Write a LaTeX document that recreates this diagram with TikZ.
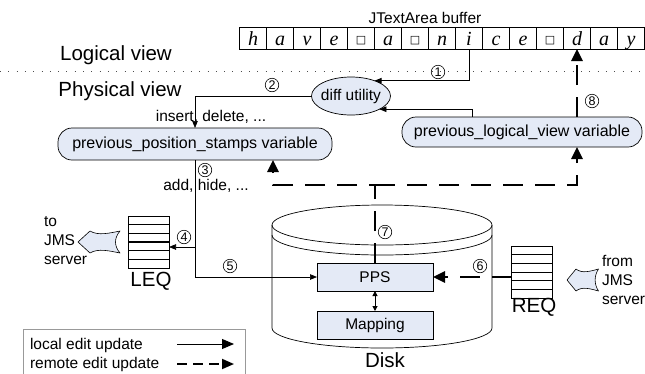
\documentclass[tikz,border=0pt]{standalone}
\usepackage{fontspec}
\setmainfont{Liberation Sans}
\newfontfamily\symfont{DejaVu Sans}
\newfontfamily\cellfont{Liberation Serif}
\usetikzlibrary{arrows.meta,shapes.geometric,calc}

\definecolor{boxfill}{RGB}{228,234,246}
\newcommand\fsz[1]{\fontsize{#1}{#1}\selectfont}
\newcommand\blank{{\symfont\fsz{11}\raisebox{1.5pt}{□}}}

\tikzset{
  fatarrow/.pic={
    \draw[fat] (0,0) -- (12,-11) .. controls (20,-6) and (32,-9) .. (42,-11)
      .. controls (36,-4) and (36,4) .. (42,11)
      .. controls (32,9) and (20,6) .. (12,11) -- cycle;
  }
}

\begin{document}
\begin{tikzpicture}[x=1pt,y=-1pt,
  every node/.style={inner sep=0pt, outer sep=0pt},
  lbl/.style={font=\fsz{15.5}},
  stack/.style={font=\fontsize{15.5}{19}\selectfont, align=left, anchor=west},
  big/.style={font=\fsz{20.5}},
  num/.style={circle, draw, line width=0.6pt, minimum size=13.5pt, font=\fsz{12.5}},
  cell/.style={draw, line width=0.6pt, minimum width=27pt, minimum height=22pt,
    text height=18pt, text depth=4pt, font=\cellfont\itshape\fsz{20}},
  varbox/.style={draw, line width=0.7pt, fill=boxfill, rounded corners=14pt, font=\fsz{16}},
  diskbox/.style={draw, line width=0.6pt, fill=boxfill, minimum width=116pt,
    minimum height=28pt, font=\fsz{15.5}},
  queue/.style={draw, line width=0.6pt, minimum width=41pt, minimum height=52pt},
  fat/.style={draw, line width=0.6pt, fill=boxfill, line join=round},
  local/.style={line width=0.7pt, -{Triangle[length=7pt,width=5.5pt]}},
  remote/.style={line width=2.6pt, dash pattern=on 20pt off 12pt,
    -{Triangle[length=12pt,width=11pt]}},
]
\useasboundingbox (0,0) rectangle (645,373);

% ---- logical view: the text buffer ----
\node[lbl] at (425,18) {JTextArea buffer};
\foreach \ch [count=\i from 0] in {h,a,v,e,\blank,a,\blank,n,i,c,e,\blank,d,a,y}
  \node[cell] (c\i) at ({253+27*\i},38) {\ch};

\node[big] at (116,55) {Logical view};
\draw[line width=1pt, dash pattern=on 0.9pt off 7.4pt, gray!60!black] (0,71) -- (645,71);
\node[big] at (120,91) {Physical view};

% ---- disk ----
\draw[line width=0.7pt] (272,225) -- (272,328)
  arc[start angle=180, end angle=0, x radius=110, y radius=20] -- (492,225);
\draw[line width=0.7pt] (382,225) ellipse[x radius=110, y radius=20];
\draw[line width=0.7pt] (272,235) arc[start angle=180, end angle=0, x radius=110, y radius=20];
\node[big] at (385,360) {Disk};

\node[diskbox] (pps) at (375,277) {PPS};
\node[diskbox] (map) at (375,325) {Mapping};
\draw[line width=1pt, {Triangle[length=5pt,width=5pt]}-{Triangle[length=5pt,width=5pt]}]
  (pps.south) -- (map.north);

% ---- variables and diff utility ----
\node[draw, ellipse, fill=boxfill, line width=0.7pt, minimum width=79pt, minimum height=38pt,
  label={[font=\fsz{15.5}]center:diff utility}] (diff) at (351,96) {};
\node[varbox, minimum width=274pt, minimum height=32pt] (ppsv) at (195,144)
  {previous\_position\_stamps variable};
\node[varbox, minimum width=240pt, minimum height=30pt] (plv) at (522,132)
  {previous\_logical\_view variable};

% ---- queues ----
\node[queue] (leq) at (148.5,242) {};
\foreach \k/\w in {1/1.3,2/0.6,3/1.3,4/0.6,5/1.3}
  \draw[line width=\w pt] ($(leq.north west)+(0,\k*52/6)$) -- ++(41,0);
\node[big] at (151,281) {LEQ};

\node[queue] (req) at (532,272) {};
\foreach \k/\w in {1/0.6,2/1.3,3/0.6,4/1.3,5/0.6}
  \draw[line width=\w pt] ($(req.north west)+(0,\k*52/6)$) -- ++(41,0);
\node[big] at (534,307) {REQ};

\pic at (78,242) {fatarrow};
\node[stack] at (44,241) {to\\JMS\\server};
\pic[xscale=0.75] at (567,280) {fatarrow};
\node[stack] at (602,280) {from\\JMS\\server};

% ---- local edit path ----
\draw[local] (c8.south) |- (diff.33);
\draw[local] ([xshift=-50pt]plv.north) |- (diff.-25);
\draw[local] (diff.west) -| (ppsv.north);
\draw[local] (ppsv.south) |- (pps.west);
\coordinate (tap) at (195,247);
\draw[local] (tap) -- (tap -| leq.east);

\node[lbl] at (211,117) {insert, delete, ...};
\node[lbl] at (206,186) {add, hide, ...};

% ---- remote edit path ----
\coordinate (split) at (375,185);
\draw[remote] (pps.east -| req.west) -- (pps.east);
\draw[remote] (pps.north) -- (split) -| ([xshift=78pt]ppsv.south);
\draw[remote] (split) -| (plv.south -| c12.south);
\draw[remote] (plv.north -| c12.south) -- (c12.south);

% ---- step numbers ----
\node[num] at (438,72) {1};
\node[num] at (272,85) {2};
\node[num] at (205,170) {3};
\node[num] at (184,237) {4};
\node[num] at (230,266) {5};
\node[num] at (480,266) {6};
\node[num] at (385,232) {7};
\node[num] at (592,101) {8};

% ---- legend ----
\node[draw=gray!80, line width=0.7pt, minimum width=222pt, minimum height=50pt,
  anchor=north west] (legend) at (23,329) {};
\node[lbl, anchor=west] at (30,345) {local edit update};
\node[lbl, anchor=west] at (30,364) {remote edit update};
\coordinate (la1) at (177,344);
\coordinate (la2) at (234,344);
\coordinate (lb1) at (177,364);
\coordinate (lb2) at (234,364);
\draw[line width=0.9pt, -{Triangle[length=12pt,width=10pt]}] (la1) -- (la2);
\draw[line width=1.8pt, dash pattern=on 10pt off 6pt, -{Triangle[length=12pt,width=10pt]}] (lb1) -- (lb2);
\end{tikzpicture}
\end{document}
